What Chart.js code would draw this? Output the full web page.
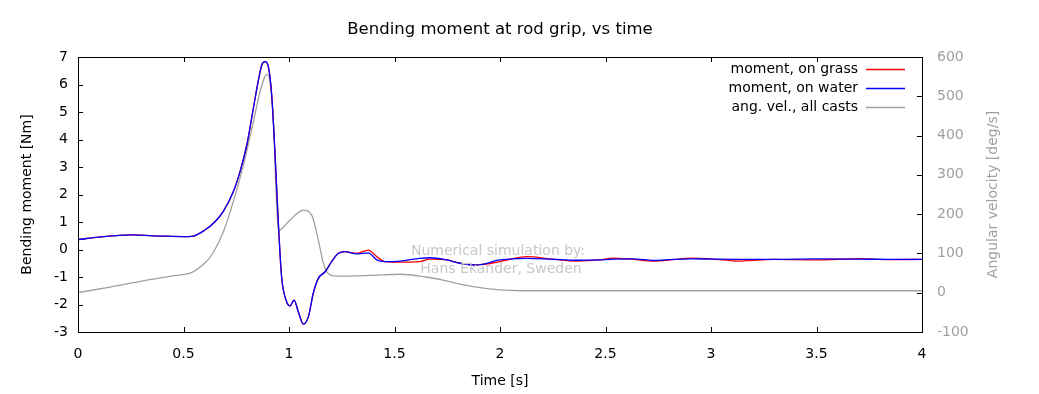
<!DOCTYPE html>
<html>
<head>
<meta charset="utf-8">
<script src="https://cdn.jsdelivr.net/npm/chart.js@4.4.0/dist/chart.umd.min.js"></script>
<style>
  html, body { margin: 0; padding: 0; background: #fff; }
</style>
</head>
<body>
<canvas id="chart" width="1039" height="394"></canvas>
<script>
// Data
const timeMoment = [0, 0.1, 0.253, 0.395, 0.5, 0.546, 0.6, 0.648, 0.688, 0.736, 0.768, 0.8, 0.831, 0.855, 0.871, 0.886, 0.902, 0.918, 0.934, 0.95, 0.965, 0.989, 1.005, 1.024, 1.044, 1.068, 1.092, 1.115, 1.139, 1.171, 1.202, 1.234, 1.265, 1.321, 1.376, 1.416, 1.455, 1.526, 1.62, 1.668, 1.747, 1.81, 1.89, 2.0, 2.126, 2.25, 2.36, 2.47, 2.535, 2.63, 2.73, 2.82, 2.91, 3.0, 3.14, 3.3, 3.5, 3.7, 3.85, 4.0];
const momentGrass = [0.36, 0.45, 0.53, 0.49, 0.47, 0.49, 0.7, 1.0, 1.38, 2.1, 2.83, 3.8, 5.13, 6.16, 6.71, 6.83, 6.65, 5.62, 3.44, 0.9, -1.0, -1.9, -2.05, -1.84, -2.26, -2.71, -2.44, -1.59, -1.05, -0.81, -0.44, -0.14, -0.08, -0.14, -0.02, -0.26, -0.44, -0.46, -0.44, -0.35, -0.38, -0.5, -0.56, -0.44, -0.26, -0.35, -0.42, -0.38, -0.31, -0.36, -0.42, -0.37, -0.31, -0.34, -0.42, -0.36, -0.38, -0.33, -0.37, -0.36];
const momentWater = [0.36, 0.45, 0.53, 0.49, 0.47, 0.49, 0.7, 1.0, 1.38, 2.1, 2.83, 3.8, 5.13, 6.16, 6.71, 6.83, 6.65, 5.62, 3.44, 0.9, -1.0, -1.9, -2.05, -1.84, -2.26, -2.71, -2.44, -1.59, -1.05, -0.81, -0.44, -0.14, -0.08, -0.16, -0.12, -0.38, -0.44, -0.42, -0.32, -0.3, -0.38, -0.5, -0.57, -0.38, -0.32, -0.36, -0.39, -0.38, -0.35, -0.34, -0.4, -0.36, -0.34, -0.35, -0.36, -0.36, -0.34, -0.35, -0.36, -0.36];

const timeAngVel = [0, 0.158, 0.316, 0.45, 0.537, 0.6, 0.634, 0.689, 0.736, 0.784, 0.831, 0.863, 0.886, 0.897, 0.91, 0.926, 0.949, 1.005, 1.068, 1.107, 1.139, 1.163, 1.187, 1.226, 1.384, 1.526, 1.65, 1.73, 1.81, 1.89, 2.0, 2.1, 2.5, 3.0, 3.5, 4.0];
const angVel = [0, 15, 31, 43, 51, 75, 96, 155, 232, 325, 435, 512, 550, 556, 537, 435, 158, 185, 210, 198, 134, 75, 48, 42, 44, 47, 40, 32, 22, 14, 7, 5, 5, 5, 5, 5];

const xTicks = [0, 0.5, 1, 1.5, 2, 2.5, 3, 3.5, 4];
const leftTicks = [-3, -2, -1, 0, 1, 2, 3, 4, 5, 6, 7];
const rightTicks = [-100, 0, 100, 200, 300, 400, 500, 600];

const seriesNames = ['moment, on grass', 'moment, on water', 'ang. vel., all casts'];
const seriesColors = ['#ff0000', '#0000ff', '#a0a0a0'];

const FONT = 'DejaVu Sans';
const GRAY_TEXT = '#a0a0a0';

function pts(xs, ys) {
  return xs.map((x, i) => ({ x: x, y: ys[i] }));
}

// Draws the gnuplot-like frame, inward ticks, titles, legend and watermark
const decorations = {
  id: 'decorations',
  afterDraw(chart) {
    const ctx = chart.ctx;
    const a = chart.chartArea;
    const sx = chart.scales.x, sy = chart.scales.y, sy2 = chart.scales.y1;
    const tl = 5;
    ctx.save();
    ctx.strokeStyle = '#000';
    ctx.lineWidth = 1;
    ctx.beginPath();
    xTicks.forEach(v => {
      const px = Math.round(sx.getPixelForValue(v)) + 0.5;
      ctx.moveTo(px, a.bottom); ctx.lineTo(px, a.bottom - tl);
      ctx.moveTo(px, a.top); ctx.lineTo(px, a.top + tl);
    });
    leftTicks.forEach(v => {
      const py = Math.round(sy.getPixelForValue(v)) + 0.5;
      ctx.moveTo(a.left, py); ctx.lineTo(a.left + tl, py);
    });
    rightTicks.forEach(v => {
      const py = Math.round(sy2.getPixelForValue(v)) + 0.5;
      ctx.moveTo(a.right, py); ctx.lineTo(a.right - tl, py);
    });
    ctx.stroke();
    ctx.strokeRect(Math.round(a.left) + 0.5, Math.round(a.top) + 0.5, Math.round(a.right - a.left), Math.round(a.bottom - a.top));

    ctx.textBaseline = 'middle';
    ctx.textAlign = 'center';
    ctx.fillStyle = '#000';
    ctx.font = '16.5px "' + FONT + '"';
    ctx.fillText('Bending moment at rod grip, vs time', (a.left + a.right) / 2, 30);
    ctx.font = '14px "' + FONT + '"';
    ctx.fillText('Time [s]', (a.left + a.right) / 2, 381);

    ctx.save();
    ctx.translate(27, (a.top + a.bottom) / 2);
    ctx.rotate(-Math.PI / 2);
    ctx.fillText('Bending moment [Nm]', 0, 0);
    ctx.restore();

    ctx.save();
    ctx.fillStyle = GRAY_TEXT;
    ctx.translate(993, (a.top + a.bottom) / 2);
    ctx.rotate(-Math.PI / 2);
    ctx.fillText('Angular velocity [deg/s]', 0, 0);
    ctx.restore();

    // watermark
    ctx.fillStyle = '#c8c8c8';
    ctx.fillText('Numerical simulation by:', 498, 251);
    ctx.fillText('Hans Ekander, Sweden', 501, 269);

    // legend
    ctx.textAlign = 'right';
    const rowY = [69, 88, 107];
    seriesNames.forEach((name, i) => {
      ctx.fillStyle = '#000';
      ctx.fillText(name, 858, rowY[i]);
      ctx.strokeStyle = seriesColors[i];
      ctx.lineWidth = 1.5;
      ctx.beginPath();
      ctx.moveTo(866, rowY[i] + 0.5);
      ctx.lineTo(905, rowY[i] + 0.5);
      ctx.stroke();
    });
    ctx.restore();
  }
};

const tickFont = { family: FONT, size: 14 };

new Chart(document.getElementById('chart'), {
  type: 'line',
  data: {
    datasets: [
      {
        label: seriesNames[1],
        data: pts(timeMoment, momentWater),
        yAxisID: 'y',
        order: 0,
        borderColor: seriesColors[1],
        borderWidth: 1.3,
        pointRadius: 0,
        cubicInterpolationMode: 'monotone'
      },
      {
        label: seriesNames[0],
        data: pts(timeMoment, momentGrass),
        yAxisID: 'y',
        order: 1,
        borderColor: seriesColors[0],
        borderWidth: 1.3,
        pointRadius: 0,
        cubicInterpolationMode: 'monotone'
      },
      {
        label: seriesNames[2],
        data: pts(timeAngVel, angVel),
        yAxisID: 'y1',
        order: 2,
        borderColor: seriesColors[2],
        borderWidth: 1.3,
        pointRadius: 0,
        cubicInterpolationMode: 'monotone'
      }
    ]
  },
  options: {
    responsive: false,
    devicePixelRatio: 1,
    animation: false,
    layout: { padding: { top: 57, left: 0, right: 0, bottom: 0 } },
    plugins: {
      legend: { display: false },
      title: { display: false },
      tooltip: { enabled: false }
    },
    scales: {
      x: {
        type: 'linear',
        position: 'bottom',
        min: 0,
        max: 4,
        grid: { display: false },
        border: { display: false },
        afterBuildTicks: s => { s.ticks = xTicks.map(v => ({ value: v })); },
        afterFit: s => { s.height = 62; },
        ticks: { font: tickFont, color: '#000', padding: 6, maxRotation: 0, autoSkip: false, callback: v => String(v) }
      },
      y: {
        type: 'linear',
        position: 'left',
        min: -3,
        max: 7,
        grid: { display: false },
        border: { display: false },
        afterBuildTicks: s => { s.ticks = leftTicks.map(v => ({ value: v })); },
        afterFit: s => { s.width = 78; },
        ticks: { font: tickFont, color: '#000', padding: 2, autoSkip: false, callback: v => String(v) }
      },
      y1: {
        type: 'linear',
        position: 'right',
        min: -100,
        max: 600,
        grid: { display: false },
        border: { display: false },
        afterBuildTicks: s => { s.ticks = rightTicks.map(v => ({ value: v })); },
        afterFit: s => { s.width = 117; },
        ticks: { font: tickFont, color: GRAY_TEXT, padding: 7, autoSkip: false, callback: v => String(v) }
      }
    }
  },
  plugins: [decorations]
});
</script>
</body>
</html>
